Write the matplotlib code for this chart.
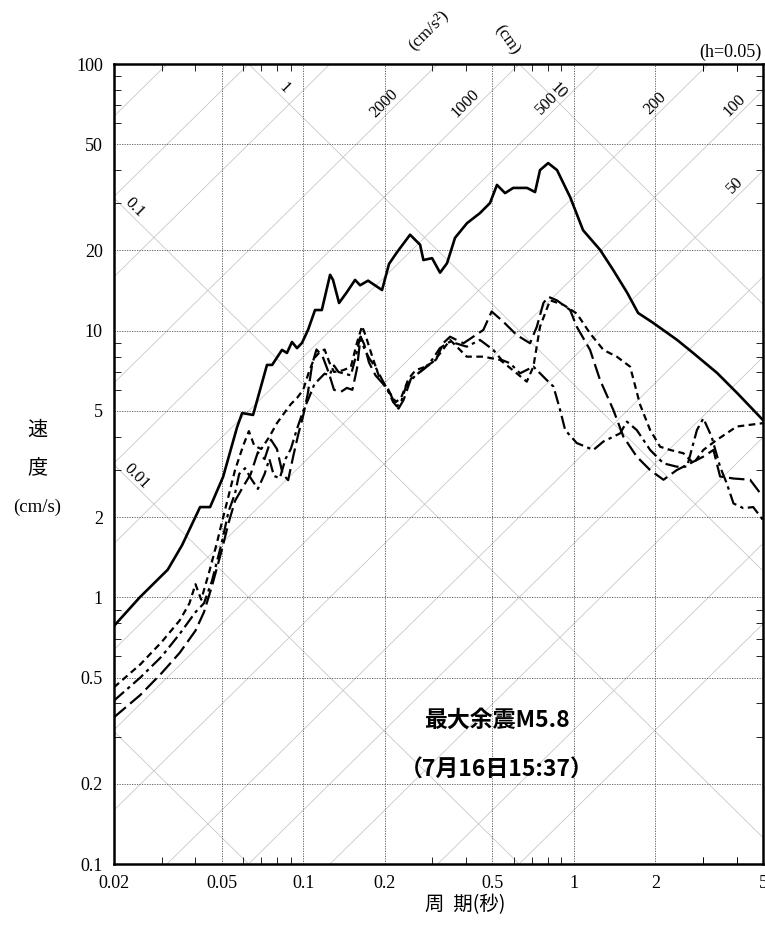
import numpy as np
import matplotlib.pyplot as plt
from matplotlib.ticker import FixedLocator, NullFormatter

plt.rcParams['font.family'] = ['Liberation Serif', 'Noto Sans CJK JP']

# velocity response spectra, h=0.05 (period s, velocity cm/s)
period_max = [0.0202, 0.0249, 0.0316, 0.0357, 0.0416, 0.0453, 0.0506, 0.057, 0.0595,
              0.0653, 0.0735, 0.0768, 0.0835, 0.0871, 0.0909, 0.0949, 0.099, 0.1042,
              0.1106, 0.1172, 0.1257, 0.1289, 0.1357, 0.1452, 0.1555, 0.1623, 0.1737,
              0.1956, 0.2076, 0.2223, 0.2483, 0.2704, 0.2781, 0.2994, 0.3204, 0.340,
              0.364, 0.403, 0.450, 0.490, 0.520, 0.557, 0.597, 0.672, 0.719, 0.750,
              0.804, 0.867, 0.929, 0.969, 1.082, 1.25, 1.397, 1.573, 1.728, 1.963,
              2.408, 2.759, 3.384, 4.01, 5.0]
sv_max = [0.79, 1.0, 1.27, 1.57, 2.18, 2.18, 2.83, 4.35, 4.91,
          4.83, 7.44, 7.44, 8.47, 8.25, 9.07, 8.6, 9.0, 10.06,
          11.95, 11.95, 16.2, 15.5, 12.7, 13.97, 15.5, 14.8, 15.4,
          14.2, 17.8, 19.7, 22.9, 21.0, 18.4, 18.7, 16.5, 17.9,
          22.3, 25.3, 27.6, 30.1, 35.2, 32.8, 34.3, 34.3, 33.1, 40.0,
          42.5, 40.0, 34.6, 31.7, 23.8, 20.1, 16.9, 13.9, 11.65, 10.7,
          9.23, 8.25, 6.94, 5.84, 4.62]

period_a = [0.02, 0.025, 0.03, 0.035, 0.038, 0.04, 0.042, 0.045, 0.048, 0.05, 0.053,
            0.056, 0.06, 0.063, 0.066, 0.07, 0.075, 0.08, 0.085, 0.09, 0.095, 0.1,
            0.105, 0.11, 0.115, 0.12, 0.125, 0.13, 0.14, 0.15, 0.158, 0.165, 0.17,
            0.18, 0.19, 0.2, 0.21, 0.22, 0.23, 0.245, 0.26, 0.28, 0.3, 0.32, 0.349,
            0.402, 0.463, 0.534, 0.615, 0.670, 0.709, 0.750, 0.817, 0.915, 1.025,
            1.148, 1.286, 1.441, 1.614, 1.757, 1.914, 2.084, 2.27, 2.54, 2.77, 3.01,
            3.37, 4.0, 5.0]
sv_a = [0.46, 0.56, 0.68, 0.82, 0.95, 1.12, 0.98, 1.25, 1.6, 1.9, 2.4,
        3.0, 3.7, 4.2, 3.7, 3.6, 4.0, 4.5, 4.9, 5.3, 5.6, 6.0,
        7.0, 7.9, 8.3, 8.5, 7.6, 7.0, 7.1, 7.3, 9.0, 10.4, 9.6,
        8.0, 6.8, 6.2, 5.8, 5.4, 5.6, 6.6, 7.1, 7.3, 7.6, 8.2, 9.23,
        7.99, 7.99, 7.77, 6.92, 6.44, 7.33, 10.35, 13.0, 12.5, 11.6,
        9.77, 8.47, 7.99, 7.33, 5.28, 4.24, 3.67, 3.57, 3.47, 3.18, 3.57,
        3.89, 4.37, 4.5]

period_b = [0.02, 0.025, 0.03, 0.035, 0.04, 0.043, 0.046, 0.05, 0.053, 0.056, 0.06,
            0.064, 0.068, 0.072, 0.076, 0.08, 0.084, 0.088, 0.092, 0.096, 0.1, 0.104,
            0.108, 0.112, 0.118, 0.124, 0.13, 0.138, 0.145, 0.152, 0.158, 0.163,
            0.168, 0.175, 0.185, 0.195, 0.205, 0.215, 0.225, 0.235, 0.25, 0.27, 0.29,
            0.31, 0.33, 0.349, 0.391, 0.463, 0.497, 0.549, 0.615, 0.689, 0.730,
            0.772, 0.805, 0.865, 0.969, 1.025, 1.148, 1.25, 1.40, 1.525, 1.708,
            1.914, 2.144, 2.40, 2.69, 3.01, 3.28, 3.47, 3.89, 4.48, 4.88, 5.0]
sv_b = [0.355, 0.43, 0.52, 0.62, 0.75, 0.88, 1.1, 1.5, 1.9, 2.3, 2.6,
        2.9, 3.5, 3.3, 3.9, 3.6, 2.9, 2.75, 3.4, 4.1, 4.8, 5.8,
        7.5, 8.5, 8.0, 7.0, 6.0, 5.9, 6.1, 6.0, 7.2, 9.5,
        8.9, 7.6, 6.8, 6.4, 6.1, 5.5, 5.1, 5.5, 6.6, 7.0, 7.4,
        7.8, 9.0, 9.49, 8.97, 10.06, 11.8, 10.8, 9.63, 8.97, 10.35,
        12.7, 13.4, 13.0, 11.95, 10.35, 8.47, 6.53, 5.04, 4.0, 3.37,
        3.0, 2.76, 3.0, 3.18, 3.37, 3.57, 2.84, 2.79, 2.76, 2.46, 2.4]

period_c = [0.02, 0.025, 0.03, 0.035, 0.04, 0.043, 0.046, 0.05, 0.053, 0.056, 0.058,
            0.061, 0.064, 0.068, 0.072, 0.075, 0.078, 0.082, 0.086, 0.09, 0.095,
            0.1, 0.105, 0.11, 0.115, 0.12, 0.125, 0.13, 0.135, 0.142, 0.15, 0.156,
            0.162, 0.168, 0.175, 0.185, 0.195, 0.205, 0.215, 0.222, 0.23, 0.24,
            0.26, 0.28, 0.3, 0.32, 0.349, 0.402, 0.45, 0.504, 0.541, 0.581, 0.633,
            0.709, 0.794, 0.841, 0.89, 0.929, 1.025, 1.181, 1.286, 1.483, 1.57,
            1.708, 1.914, 2.144, 2.40, 2.62, 2.85, 3.01, 3.23, 3.47, 3.67, 3.89,
            4.23, 4.6, 5.0]
sv_c = [0.41, 0.50, 0.60, 0.73, 0.88, 0.95, 1.15, 1.6, 2.1, 2.45, 2.9,
        3.05, 2.8, 2.55, 2.9, 3.3, 2.85, 2.8, 3.3, 3.6, 4.3,
        5.0, 5.6, 6.3, 6.6, 6.9, 6.8, 7.4, 7.0, 6.9, 6.8, 7.9,
        9.4, 8.6, 7.9, 7.3, 6.6, 6.0, 5.4, 5.2, 5.4, 6.2,
        6.8, 7.2, 7.8, 8.6, 9.1, 8.71, 9.23, 8.47, 7.77, 7.55, 6.92,
        7.33, 6.53, 6.17, 5.04, 4.24, 3.79, 3.57, 3.84, 4.12, 4.56,
        4.24, 3.57, 3.18, 3.09, 3.09, 4.24, 4.69, 4.0, 3.09, 2.68, 2.25,
        2.16, 2.18, 1.95]

# tripartite grid levels
accel_levels = [1, 2, 5, 10, 20, 50, 100, 200, 500, 1000, 2000, 5000, 10000, 20000]
disp_levels = [0.001, 0.01, 0.1, 1, 10]
accel_labels = ['2000', '1000', '500', '200', '100', '50']
accel_label_sv = [71, 71, 71, 71, 70, 35]
disp_labels = ['1', '10', '0.1', '0.01']
disp_label_sv = [81, 79, 29, 2.85]

x_major = [0.02, 0.05, 0.1, 0.2, 0.5, 1, 2, 5]
x_major_labels = ['0.02', '0.05', '0.1', '0.2', '0.5', '1', '2', '5']
y_major = [0.1, 0.2, 0.5, 1, 2, 5, 10, 20, 50, 100]
y_major_labels = ['0.1', '0.2', '0.5', '1', '2', '5', '10', '20', '50', '100']

W, H = 765, 938
fig = plt.figure(figsize=(W / 100, H / 100), dpi=100)
ax = fig.add_axes([114 / W, 1 - 864 / H, (763 - 114) / W, (864 - 64) / H])
ax.set_xscale('log')
ax.set_yscale('log')

grid_kw = dict(color='#c4c4c4', lw=0.55, zorder=1)
t_line = np.logspace(np.log10(0.005), np.log10(10), 300)
for sa in accel_levels:
    ax.plot(t_line, sa * t_line / (2 * np.pi), **grid_kw)
for sd in disp_levels:
    ax.plot(t_line, 2 * np.pi * sd / t_line, **grid_kw)

ax.set_xlim(0.02, 5)
ax.set_ylim(0.1, 100)

for lab, sv in zip(accel_labels, accel_label_sv):
    t = 2 * np.pi * sv / float(lab)
    ax.annotate(lab, (t, sv), xytext=(-9.5, 0), textcoords='offset points',
                rotation=45, ha='center', va='center', fontsize=12)
for lab, sv in zip(disp_labels, disp_label_sv):
    t = 2 * np.pi * float(lab) / sv
    ax.annotate(lab, (t, sv), xytext=(8, 0), textcoords='offset points',
                rotation=-45, ha='center', va='center', fontsize=12)

# response curves
ax.plot(period_max, sv_max, color='black', lw=1.9, zorder=5)
ax.plot(period_a, sv_a, color='black', lw=1.6, ls=(0, (3, 2)), zorder=4)
ax.plot(period_b, sv_b, color='black', lw=1.6, ls=(0, (7, 2.5)), zorder=4)
ax.plot(period_c, sv_c, color='black', lw=1.6, ls=(0, (6, 2, 1.5, 2)), zorder=4)

ax.xaxis.set_major_locator(FixedLocator(x_major))
ax.set_xticklabels(x_major_labels)
ax.yaxis.set_major_locator(FixedLocator(y_major))
ax.set_yticklabels(y_major_labels)
x_minor = [m * d for d in (0.01, 0.1, 1) for m in (3, 4, 6, 7, 8, 9)] + [3, 4]
y_minor = [m * d for d in (0.1, 1, 10) for m in (3, 4, 6, 7, 8, 9)]
ax.xaxis.set_minor_locator(FixedLocator([v for v in x_minor if 0.02 < v < 5]))
ax.yaxis.set_minor_locator(FixedLocator([v for v in y_minor if 0.1 < v < 100]))
ax.xaxis.set_minor_formatter(NullFormatter())
ax.yaxis.set_minor_formatter(NullFormatter())
ax.tick_params(which='major', length=0, pad=8, labelsize=13)
ax.tick_params(which='minor', direction='in', length=5, width=0.6,
               top=True, right=True)
ax.grid(which='major', color='#505050', lw=0.6, ls=(0, (1.5, 1.5)), zorder=2)
for s in ax.spines.values():
    s.set_linewidth(1.8)

ax.text(0.59, 0.18, '最大余震M5.8', transform=ax.transAxes, ha='center', va='center',
        fontsize=16.5, fontweight='bold', family=['Noto Sans CJK JP'])
ax.text(0.59, 0.1175, '（7月16日15:37）', transform=ax.transAxes, ha='center',
        va='center', fontsize=16.5, fontweight='bold', family=['Noto Sans CJK JP'])

fig.text(37 / W, 1 - 430 / H, '速', ha='center', va='center', fontsize=14.5,
         family=['Noto Sans CJK JP'])
fig.text(37 / W, 1 - 468 / H, '度', ha='center', va='center', fontsize=14.5,
         family=['Noto Sans CJK JP'])
fig.text(37 / W, 1 - 507 / H, '(cm/s)', ha='center', va='center', fontsize=13.5)
fig.text(465 / W, 1 - 905 / H, '周  期(秒)', ha='center', va='center', fontsize=14,
         family=['Noto Sans CJK JP'])
fig.text(428 / W, 1 - 30 / H, '(cm/s²)', ha='center', va='center', fontsize=12.5,
         rotation=45)
fig.text(507 / W, 1 - 40 / H, '(cm)', ha='center', va='center', fontsize=12.5,
         rotation=-55)
fig.text(762 / W, 1 - 52 / H, '(h=0.05)', ha='right', va='center', fontsize=13)

fig.savefig('out.png', dpi=100)
